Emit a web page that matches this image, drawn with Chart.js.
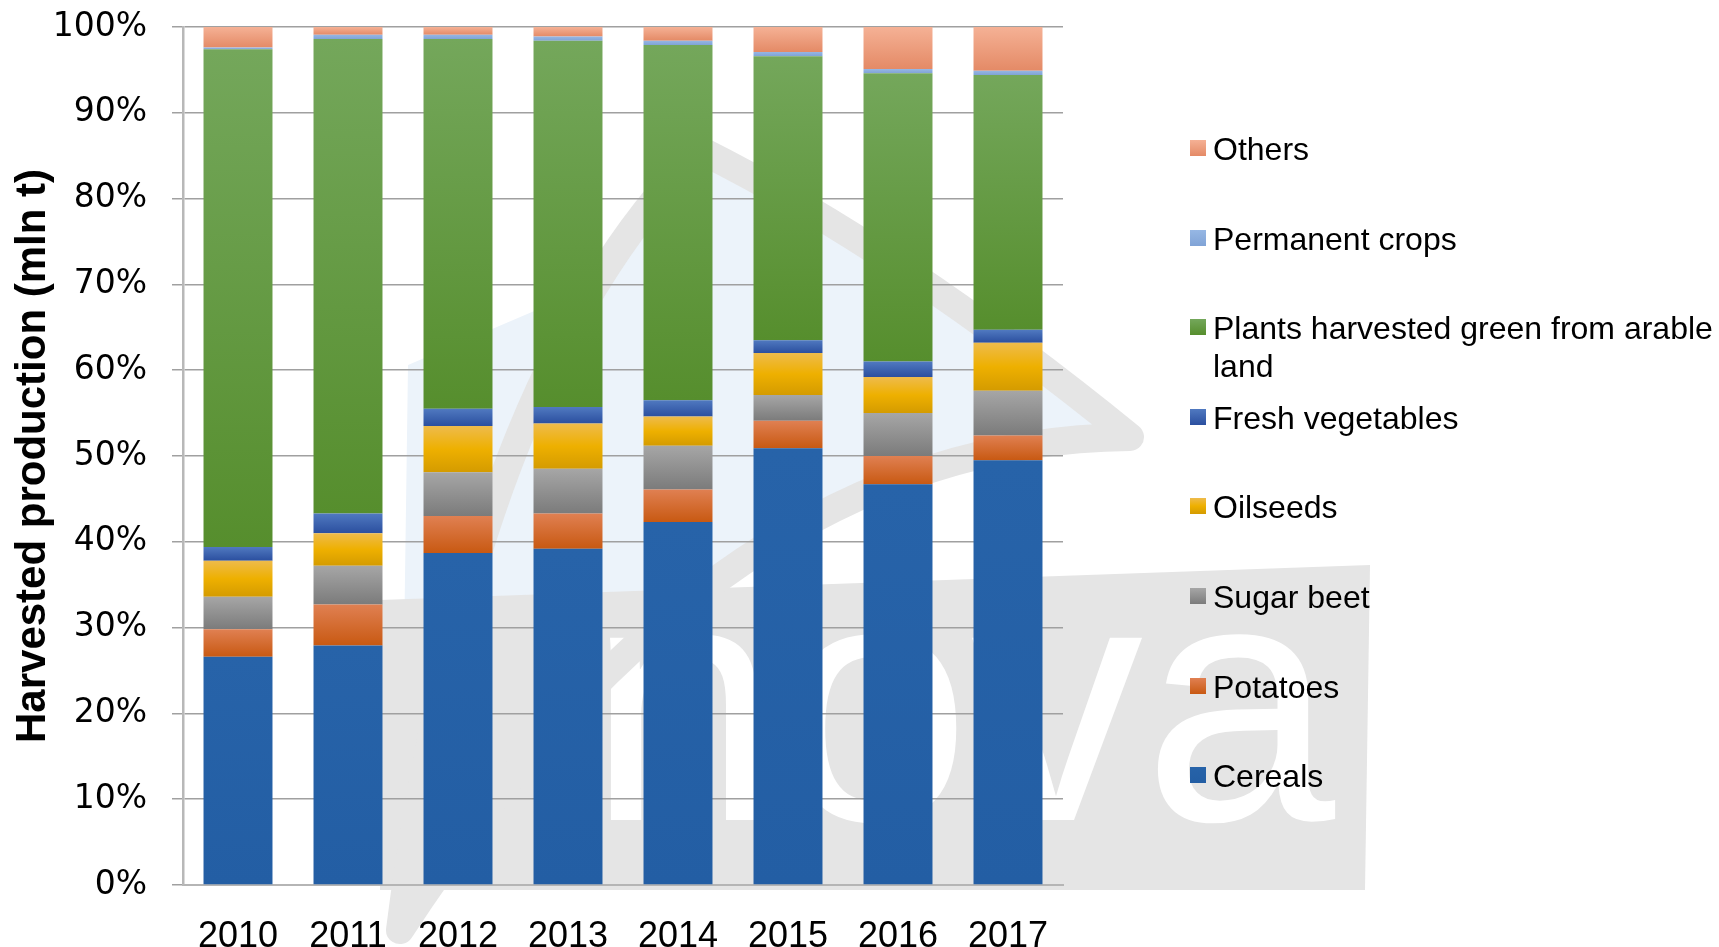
<!DOCTYPE html>
<html>
<head>
<meta charset="utf-8">
<title>Harvested production</title>
<script src="https://cdn.jsdelivr.net/npm/chart.js@4.4.0/dist/chart.umd.min.js"></script>
<style>
  body { margin: 0; background: #fff; }
  #wrap { position: relative; width: 1719px; height: 947px; overflow: hidden; }
  #legend { position: absolute; left: 1190px; top: 0; font-family: 'Liberation Sans', Arial, sans-serif; font-size: 32px; color: #000; }
  .item { position: absolute; left: 0; line-height: 38px; }
  .item .box { position: absolute; left: 0; width: 16px; height: 16px; }
  .item .txt { position: absolute; left: 23px; width: 506px; }
</style>
</head>
<body>
<div id="wrap">
  <canvas id="chart" width="1719" height="947"></canvas>
  <div id="legend"></div>
</div>
<script>
// Años y series (% de la producción cosechada)
const years = ['2010', '2011', '2012', '2013', '2014', '2015', '2016', '2017'];
const cereals     = [26.6, 27.9, 38.7, 39.2, 42.3, 50.9, 46.7, 49.5];
const potatoes    = [3.2, 4.8, 4.3, 4.1, 3.8, 3.2, 3.3, 2.9];
const sugarBeet   = [3.8, 4.5, 5.1, 5.2, 5.1, 3.0, 5.0, 5.2];
const oilseeds    = [4.2, 3.8, 5.4, 5.3, 3.4, 4.9, 4.2, 5.6];
const freshVeg    = [1.6, 2.3, 2.0, 1.9, 1.9, 1.5, 1.8, 1.5];
const greenPlants = [58.0, 55.3, 43.1, 42.7, 41.4, 33.1, 33.6, 29.7];
const permanent   = [0.2, 0.5, 0.5, 0.5, 0.5, 0.5, 0.5, 0.5];
const others      = [2.4, 0.9, 0.9, 1.1, 1.6, 2.9, 4.9, 5.1];

const seriesNames = ['Cereals', 'Potatoes', 'Sugar beet', 'Oilseeds', 'Fresh vegetables',
  'Plants harvested green from arable land', 'Permanent crops', 'Others'];
const seriesData = [cereals, potatoes, sugarBeet, oilseeds, freshVeg, greenPlants, permanent, others];
const yTicks = [0, 10, 20, 30, 40, 50, 60, 70, 80, 90, 100];

// colores: arriba -> abajo de cada segmento
const seriesColors = [
  ['#2763a9', '#235ea4'],
  ['#e08052', '#c85912'],
  ['#a6a6a6', '#7b7b7b'],
  ['#eebb4c', '#eeb000', '#d49b00'],
  ['#5079c0', '#2b4f9f'],
  ['#74a75b', '#568e2d'],
  ['#96b7e4', '#80a3d6'],
  ['#f5b195', '#e48a66']
];

const FONT = "'Liberation Sans', Arial, sans-serif";

function segmentFill(k) {
  const stops = seriesColors[k];
  return (ctx) => {
    const chart = ctx.chart;
    const y = chart.scales && chart.scales.y;
    if (ctx.type !== 'data' || !y) return stops[1];
    const i = ctx.dataIndex;
    let base = 0;
    for (let j = 0; j < k; j++) base += seriesData[j][i];
    const top = base + seriesData[k][i];
    const y0 = y.getPixelForValue(top), y1 = y.getPixelForValue(base);
    if (!isFinite(y0) || !isFinite(y1) || y1 - y0 < 1) return stops[1];
    const g = chart.ctx.createLinearGradient(0, y0, 0, y1);
    stops.forEach((c, n) => g.addColorStop(n / (stops.length - 1), c));
    return g;
  };
}

// Marca de agua de fondo (logo gris/azul)
const watermark = {
  id: 'watermark',
  beforeDraw(chart) {
    const c = chart.ctx;
    c.save();
    c.fillStyle = '#fff';
    c.fillRect(0, 0, chart.width, chart.height);
    // relleno azul claro
    c.beginPath();
    c.moveTo(700, 150);
    c.quadraticCurveTo(900, 250, 1130, 437);
    c.quadraticCurveTo(720, 440, 400, 930);
    c.lineTo(408, 365);
    c.lineTo(560, 300);
    c.closePath();
    c.fillStyle = '#ecf3fa';
    c.fill();
    // banda gris con letras blancas
    c.beginPath();
    c.moveTo(380, 600);
    c.lineTo(1370, 565);
    c.lineTo(1365, 890);
    c.lineTo(380, 890);
    c.closePath();
    c.fillStyle = '#e5e5e5';
    c.fill();
    c.fillStyle = '#fff';
    c.font = '345px ' + FONT;
    c.textBaseline = 'alphabetic';
    c.fillText('nova', 587, 820);
    // contorno gris
    c.beginPath();
    c.moveTo(700, 150);
    c.quadraticCurveTo(900, 250, 1130, 437);
    c.quadraticCurveTo(720, 440, 400, 930);
    c.quadraticCurveTo(470, 380, 700, 150);
    c.closePath();
    c.lineWidth = 28;
    c.lineJoin = 'round';
    c.strokeStyle = '#e5e5e5';
    c.stroke();
    c.restore();
  }
};

const chart = new Chart(document.getElementById('chart').getContext('2d'), {
  type: 'bar',
  data: {
    labels: years,
    datasets: seriesNames.map((name, k) => ({
      label: name,
      data: seriesData[k],
      backgroundColor: segmentFill(k),
      borderWidth: 0,
      barPercentage: 0.627,
      categoryPercentage: 1
    }))
  },
  options: {
    responsive: false,
    animation: false,
    layout: { padding: { left: 0, right: 656, top: 27, bottom: 0 } },
    plugins: { legend: { display: false }, tooltip: { enabled: false } },
    scales: {
      x: {
        stacked: true,
        grid: { display: false, drawTicks: false },
        border: { color: '#b5b5b5', width: 2 },
        ticks: { color: '#000', font: { family: FONT, size: 36 }, padding: 30 },
        afterFit: s => { s.height = 62; }
      },
      y: {
        stacked: true,
        min: 0,
        max: 100,
        afterBuildTicks: s => { s.ticks = yTicks.map(v => ({ value: v })); },
        ticks: { color: '#000', font: { family: "'DejaVu Sans', sans-serif", size: 33 }, padding: 25, callback: v => v + '%' },
        grid: { color: '#a0a0a0', lineWidth: 1.5, tickLength: 11 },
        border: { color: '#b8b8b8', width: 2.5 },
        title: {
          display: true,
          text: 'Harvested production (mln t)',
          color: '#000',
          font: { family: FONT, size: 42, weight: 'bold' },
          padding: { top: 8, bottom: 0 }
        },
        afterFit: s => { s.width = 183; s.paddingTop = 0; s.paddingBottom = 0; }
      }
    }
  },
  plugins: [watermark]
});

// Leyenda HTML (orden inverso, con salto de línea para el texto largo)
const legend = document.getElementById('legend');
const order = seriesNames.map((n, k) => k).reverse();
order.forEach((k, n) => {
  const center = 149 + n * 89.6;
  const item = document.createElement('div');
  item.className = 'item';
  item.style.top = (center - 19) + 'px';
  const box = document.createElement('span');
  box.className = 'box';
  box.style.top = '10px';
  box.style.background = 'linear-gradient(' + seriesColors[k].join(',') + ')';
  const txt = document.createElement('span');
  txt.className = 'txt';
  txt.textContent = seriesNames[k];
  item.appendChild(box);
  item.appendChild(txt);
  legend.appendChild(item);
});
</script>
</body>
</html>
